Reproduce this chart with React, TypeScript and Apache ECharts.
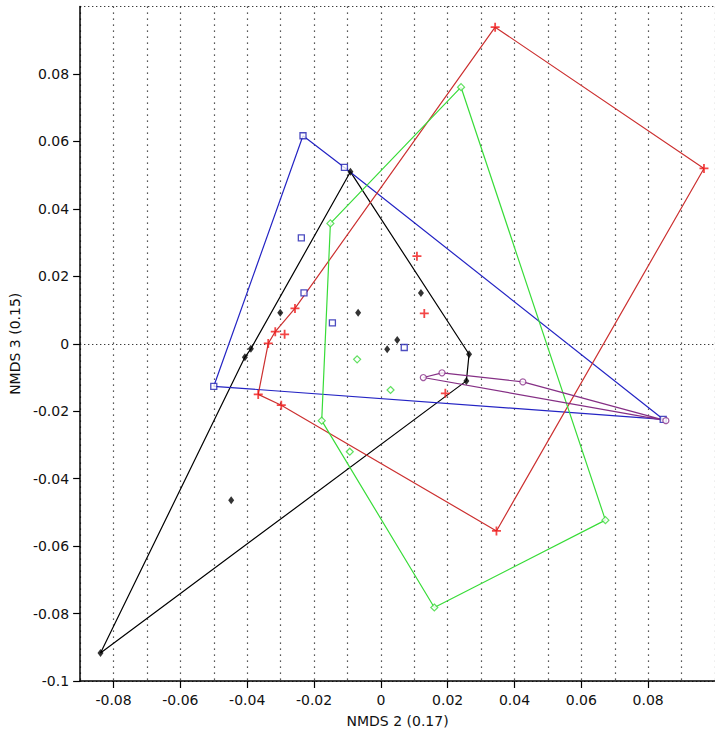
import React, { useEffect, useRef } from 'react';
import * as echarts from 'echarts';

// Group points [NMDS 2, NMDS 3]
const blackPts: number[][] = [
  [-0.0091, 0.051], [0.0264, -0.0031], [0.0256, -0.011], [-0.0839, -0.0917],
  [-0.0407, -0.004], [-0.0389, -0.0015], [-0.0301, 0.0092], [-0.0068, 0.0092],
  [0.012, 0.0151], [0.0049, 0.0011], [0.0019, -0.0016], [-0.0448, -0.0464],
];
const blackHull = [0, 1, 2, 3, 4, 5, 0];

const bluePts: number[][] = [
  [-0.0233, 0.0617], [-0.0109, 0.0523], [0.0845, -0.0224], [-0.05, -0.0126],
  [-0.0238, 0.0314], [-0.023, 0.0151], [-0.0145, 0.0062], [0.007, -0.0011],
];
const blueHull = [0, 1, 2, 3, 0];

const redPts: number[][] = [
  [0.0342, 0.0939], [0.0967, 0.052], [0.0346, -0.0555], [-0.0298, -0.0182],
  [-0.0367, -0.015], [-0.0337, 0.0001], [-0.0316, 0.0036], [-0.0257, 0.0105],
  [-0.0288, 0.0028], [0.0108, 0.026], [0.013, 0.009], [0.0193, -0.0147],
];
const redHull = [0, 1, 2, 3, 4, 5, 6, 7, 0];

const greenPts: number[][] = [
  [0.024, 0.0761], [0.0672, -0.0523], [0.016, -0.0782], [-0.0177, -0.0228],
  [-0.0151, 0.0357], [-0.0093, -0.032], [-0.0071, -0.0046], [0.0029, -0.0137],
];
const greenHull = [0, 1, 2, 3, 4, 0];

const purplePts: number[][] = [
  [0.0127, -0.01], [0.0183, -0.0086], [0.0425, -0.0113], [0.0853, -0.0228],
];
const purpleHull = [0, 1, 2, 3, 0];

const xTickValues = [-0.08, -0.06, -0.04, -0.02, 0, 0.02, 0.04, 0.06, 0.08];
const xRange = { min: -0.09, max: 0.1, interval: 0.01 };
const yLabelTicks = { min: -0.1, max: 0.1, interval: 0.02 };
const yGridTicks = { min: -0.1, max: 0.1, interval: 0.1 };

const FONT = "'DejaVu Sans', Verdana, sans-serif";
const PLUS = 'path://M4,0H6V4H10V6H6V10H4V6H0V4H4Z';

function groupSeries(
  pts: number[][],
  hull: number[],
  lineColor: string,
  symbol: string,
  symbolSize: number | number[],
  itemStyle: any,
) {
  return [
    {
      type: 'line',
      data: hull.map((i) => pts[i]),
      showSymbol: false,
      symbol: 'none',
      lineStyle: { color: lineColor, width: 1.2 },
      silent: true,
      z: 2,
    },
    {
      type: 'scatter',
      data: pts,
      symbol,
      symbolSize,
      itemStyle,
      z: 3,
    },
  ];
}

export default function App() {
  const ref = useRef<HTMLDivElement>(null);
  useEffect(() => {
    document.body.style.margin = '0';
    const chart = echarts.init(ref.current!, null, { renderer: 'svg' });
    const axisText = { fontSize: 14, color: '#111', fontFamily: FONT };
    chart.setOption({
      animation: false,
      grid: { left: 73, top: 6.6, right: -5, bottom: 57, containLabel: false },
      xAxis: [
        {
          type: 'value',
          ...xRange,
          position: 'bottom',
          axisLine: { show: true, onZero: false, lineStyle: { color: '#000', width: 1.5 } },
          axisTick: { show: true, length: 7, customValues: xTickValues, lineStyle: { color: '#000', width: 1.2 } },
          axisLabel: {
            ...axisText,
            margin: 12,
            customValues: xTickValues,
            formatter: (v: number) => String(Math.round(v * 100) / 100),
          },
          splitLine: { show: false },
          name: 'NMDS 2 (0.17)',
          nameLocation: 'middle',
          nameGap: 33,
          nameTextStyle: { ...axisText },
          z: 5,
        },
        {
          type: 'value',
          ...xRange,
          position: 'bottom',
          axisLine: { show: false },
          axisTick: { show: false },
          axisLabel: { show: false },
          splitLine: { show: true, lineStyle: { color: '#222', width: 1.2, type: [1.2, 4.8] } },
        },
      ],
      yAxis: [
        {
          type: 'value',
          ...yLabelTicks,
          axisLine: { show: true, onZero: false, lineStyle: { color: '#000', width: 1.5 } },
          axisTick: { show: true, length: 7, lineStyle: { color: '#000', width: 1.2 } },
          axisLabel: { ...axisText, margin: 11, showMaxLabel: false },
          splitLine: { show: false },
          name: 'NMDS 3 (0.15)',
          nameLocation: 'middle',
          nameGap: 45,
          nameTextStyle: { ...axisText },
          z: 5,
        },
        {
          type: 'value',
          ...yGridTicks,
          position: 'left',
          axisLine: { show: false },
          axisTick: { show: false },
          axisLabel: { show: false },
          splitLine: { show: true, lineStyle: { color: '#222', width: 1.2, type: [1.2, 2.8] } },
        },
      ],
      series: [
        ...groupSeries(blackPts, blackHull, '#000000', 'diamond', [6, 8], { color: '#000' }),
        ...groupSeries(bluePts, blueHull, '#2424c4', 'rect', 6, {
          color: '#fff', borderColor: '#1f1fb0', borderWidth: 1.3,
        }),
        ...groupSeries(redPts, redHull, '#cc3030', PLUS, 9, { color: '#f01818' }),
        ...groupSeries(greenPts, greenHull, '#38dc38', 'diamond', 7, {
          color: '#fff', borderColor: '#38d838', borderWidth: 1.2,
        }),
        ...groupSeries(purplePts, purpleHull, '#852f85', 'circle', 6, {
          color: '#fff', borderColor: '#8a2f8a', borderWidth: 1.2,
        }),
      ],
    });
    return () => chart.dispose();
  }, []);
  return <div ref={ref} style={{ width: 715, height: 738 }} />;
}
